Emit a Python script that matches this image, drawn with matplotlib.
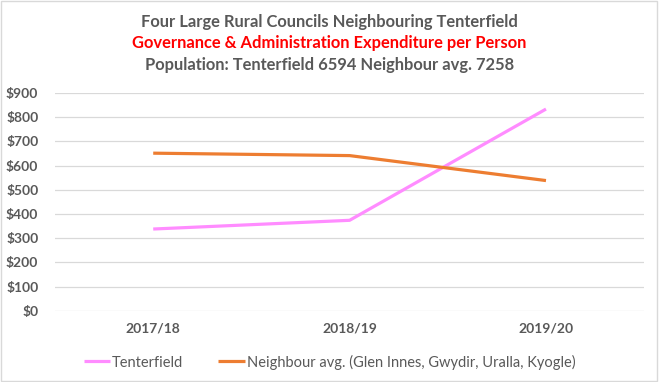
import matplotlib
matplotlib.use('Agg')
import matplotlib.pyplot as plt
from matplotlib.patches import Rectangle

# data
years = ['2017/18', '2018/19', '2019/20']
tenterfield = [338, 374, 833]
neighbour_avg = [651, 641, 538]
y_ticks = list(range(0, 1000, 100))

grey_text = '#595959'
pink = '#FF8CFF'
orange = '#ED7D31'

plt.rcParams['font.family'] = ['Lato', 'DejaVu Sans']

fig = plt.figure(figsize=(6.59, 3.82), dpi=100)
ax = fig.add_axes([0.0835, 0.186, 0.894, 0.571])

x = range(len(years))
ax.plot(x, tenterfield, color=pink, lw=2.3, solid_capstyle='butt',
        label='Tenterfield')
ax.plot(x, neighbour_avg, color=orange, lw=2.3, solid_capstyle='butt',
        label='Neighbour avg. (Glen Innes, Gwydir, Uralla, Kyogle)')

ax.set_xlim(-0.5, len(years) - 0.5)
ax.set_ylim(0, 900)
ax.set_yticks(y_ticks)
ax.set_yticklabels(['${}'.format(v) for v in y_ticks])
ax.set_xticks(list(x))
ax.set_xticklabels(years)
ax.grid(axis='y', color='#D9D9D9', lw=0.9)
ax.set_axisbelow(True)
for s in ax.spines.values():
    s.set_visible(False)
ax.tick_params(length=0, colors=grey_text, labelsize=10)
ax.tick_params(axis='y', pad=12)
ax.tick_params(axis='x', pad=8)
for lbl in ax.get_xticklabels() + ax.get_yticklabels():
    lbl.set_fontweight('bold')

# titles
fig.text(0.5, 1 - 22 / 382, 'Four Large Rural Councils Neighbouring Tenterfield',
         ha='center', va='center', fontsize=11.9, fontweight='bold', color=grey_text)
fig.text(0.5, 1 - 43 / 382, 'Governance & Administration Expenditure per Person',
         ha='center', va='center', fontsize=11.9, fontweight='bold', color='#FF0000')
fig.text(0.5, 1 - 65 / 382, 'Population: Tenterfield 6594 Neighbour avg. 7258',
         ha='center', va='center', fontsize=11.9, fontweight='bold', color=grey_text)

leg = fig.legend(loc='center', bbox_to_anchor=(0.5, 1 - 362 / 382), ncol=2,
                 frameon=False, fontsize=10.5, handlelength=1.8, handletextpad=0.15,
                 columnspacing=2.4)
for t in leg.get_texts():
    t.set_color(grey_text)

# thin outer border like the Excel chart area
fig.patches.append(Rectangle((0.002, 0.003), 0.995, 0.994, transform=fig.transFigure,
                             fill=False, edgecolor='#D9D9D9', lw=1))

fig.savefig('out.png', dpi=100)
